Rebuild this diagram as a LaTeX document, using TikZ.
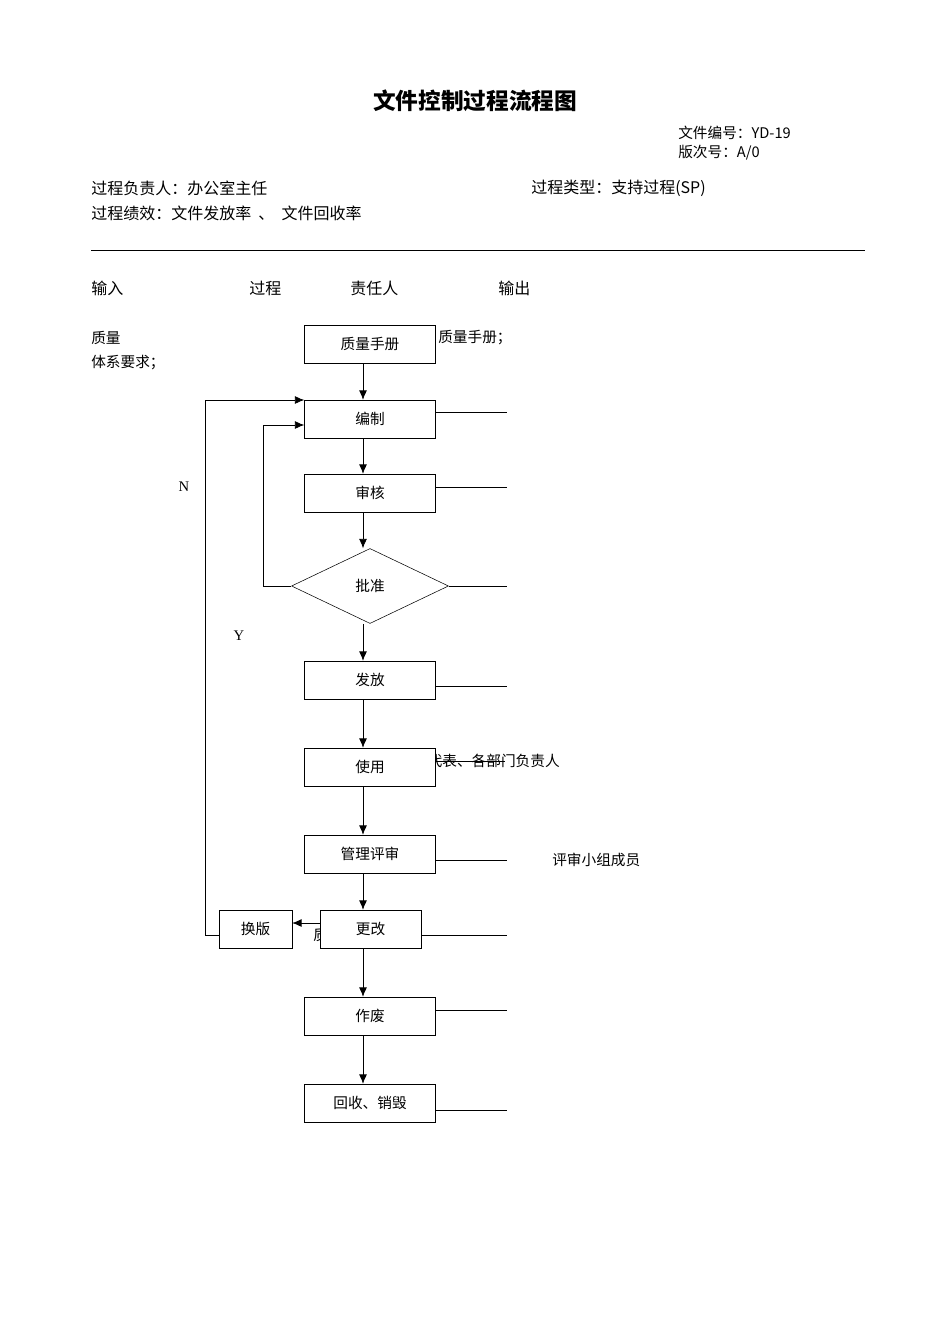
\documentclass[tikz,border=0pt]{standalone}
\usepackage{fontspec}
\newfontfamily\cjk{Noto Sans CJK SC}
\setmainfont{Liberation Serif}
\usetikzlibrary{shapes.geometric,arrows.meta}
\begin{document}
\begin{tikzpicture}[x=0.75pt,y=-0.75pt,
  box/.style={draw,fill=white,minimum width=131*0.75pt,minimum height=38*0.75pt,inner sep=0pt,font=\cjk\fontsize{11}{12}\selectfont},
  txt/.style={font=\cjk\fontsize{12}{14}\selectfont,inner sep=0pt,anchor=west},
  sm/.style={font=\cjk\fontsize{11}{13}\selectfont,inner sep=0pt,anchor=west},
  arr/.style={-{Latex[length=7pt,width=6pt]}},
  ln/.style={line width=0.6pt}]
\useasboundingbox (0,0) rectangle (950,1344);
\node[font=\cjk\bfseries\fontsize{17}{20}\selectfont] (title) at (475,101) {文件控制过程流程图};
\node[sm] (no) at (678,133) {文件编号：YD-19};
\node[sm] (ver) at (678,153) {版次号：A/0};
\node[txt] (own) at (91,188) {过程负责人：办公室主任};
\node[txt] (typ) at (531,188) {过程类型：支持过程(SP)};
\node[txt] (perf) at (91,213) {过程绩效：文件发放率 \ 、 \ 文件回收率};
\draw[ln] (91,250) -- (865,250);
\node[txt] (h1) at (91,288) {输入};
\node[txt] (h2) at (249,288) {过程};
\node[txt] (h3) at (350,288) {责任人};
\node[txt] (h4) at (498,288) {输出};
\node[sm] (in1) at (91,338) {质量};
\node[sm] (in2) at (91,363) {体系要求；};
\node[sm] (out1) at (438,338) {质量手册；};
\node[sm,anchor=east] (r1) at (560,761) {管理者代表、各部门负责人};
\node[sm] (r2) at (313,935) {质量};
\node[sm] (r3) at (552,860) {评审小组成员};

\node[box] (b0) at (370,344) {质量手册};
\node[box] (b1) at (370,419) {编制};
\node[box] (b2) at (370,493) {审核};
\node[draw,diamond,aspect=2.1,fill=white,minimum width=157*0.75pt,minimum height=75*0.75pt,inner sep=0pt,font=\cjk\fontsize{11}{12}\selectfont] (b3) at (370,586) {批准};
\node[box] (b4) at (370,680) {发放};
\node[box] (b5) at (370,767) {使用};
\node[box] (b6) at (370,854) {管理评审};
\node[box,minimum width=101*0.75pt] (b7) at (370.5,929) {更改};
\node[box,minimum width=73*0.75pt] (b8) at (255.5,929) {换版};
\node[box] (b9) at (370,1016) {作废};
\node[box] (b10) at (370,1103) {回收、销毁};
\node[font=\fontsize{11}{12}\selectfont] (N) at (184,487) {N};
\node[font=\fontsize{11}{12}\selectfont] (Y) at (239,636) {Y};

\foreach \a/\b in {b0/b1,b1/b2,b2/b3,b3/b4,b4/b5,b5/b6,b6/b7,b7/b9,b9/b10}
  \draw[ln,arr] (\a.south -| 363,0) -- (\b.north -| 363,0);
\draw[ln,arr] (b7.west |- 0,923) -- (b8.east |- 0,923);
\draw[ln,arr] (b8.west |- 0,935) -- (205,935) -- (205,400) -- (b1.west |- 0,400);
\draw[ln,arr] (b3.west) -- (263,586) -- (263,425) -- (b1.west |- 0,425);
\coordinate (e1) at (507,412); \coordinate (e2) at (507,487); \coordinate (e3) at (507,586);
\coordinate (e4) at (507,686); \coordinate (e5) at (505,761); \coordinate (e6) at (507,860);
\coordinate (e7) at (507,935); \coordinate (e8) at (507,1010); \coordinate (e9) at (507,1110);
\draw[ln] (b1.east |- e1) -- (e1);
\draw[ln] (b2.east |- e2) -- (e2);
\draw[ln] (b3.east) -- (e3);
\draw[ln] (b4.east |- e4) -- (e4);
\draw[ln] (b5.east |- e5) -- (e5);
\draw[ln] (b6.east |- e6) -- (e6);
\draw[ln] (b7.east |- e7) -- (e7);
\draw[ln] (b9.east |- e8) -- (e8);
\draw[ln] (b10.east |- e9) -- (e9);
\end{tikzpicture}
\end{document}
